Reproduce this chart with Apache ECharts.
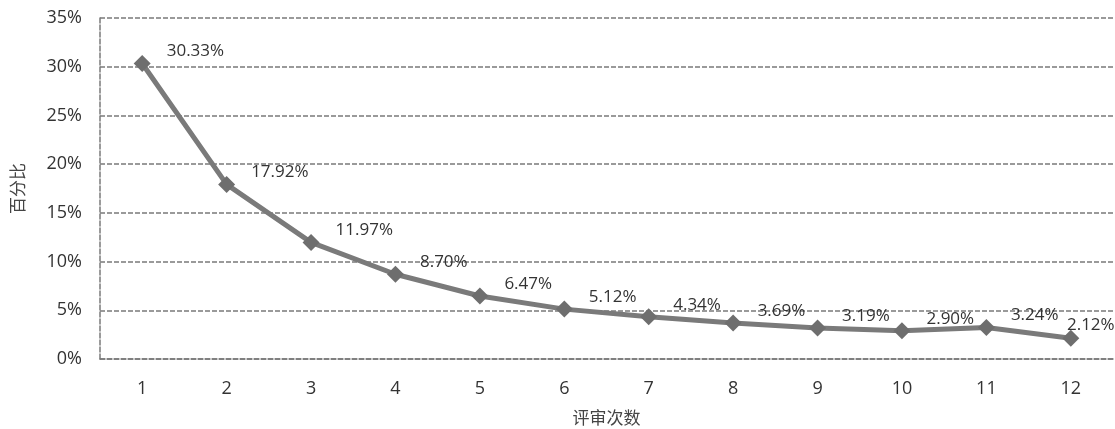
<!DOCTYPE html>
<html>
<head>
<meta charset="utf-8">
<script src="https://cdn.jsdelivr.net/npm/echarts@6/dist/echarts.min.js"></script>
<style>
  html, body { margin: 0; padding: 0; background: #fff; }
  #chart { width: 1115px; height: 429px; }
</style>
</head>
<body>
<div id="chart"></div>
<script>
// 评审次数
const rounds = ['1', '2', '3', '4', '5', '6', '7', '8', '9', '10', '11', '12'];
// 百分比
const percents = [30.33, 17.92, 11.97, 8.70, 6.47, 5.12, 4.34, 3.69, 3.19, 2.90, 3.24, 2.12];

const pointData = percents.map((v, i) => {
  // 最后一个点的标签放在上方，避免被裁掉
  if (i === percents.length - 1) {
    return { value: v, label: { position: 'top', distance: 4, offset: [20, 8] } };
  }
  return v;
});

const gridLine = { color: '#7a7a7a', type: [5, 2], width: 1.5 };

const chart = echarts.init(document.getElementById('chart'));
chart.setOption({
  animation: false,
  grid: { left: 100, right: 2, top: 18, bottom: 70, outerBoundsMode: 'none', containLabel: false },
  xAxis: {
    type: 'category',
    data: rounds,
    name: '评审次数',
    nameLocation: 'middle',
    nameGap: 50,
    nameTextStyle: { fontSize: 17, color: '#444', fontFamily: 'Noto Sans CJK SC' },
    axisLine: { lineStyle: gridLine },
    axisTick: { show: false },
    axisLabel: { color: '#333', fontSize: 18, margin: 21, fontFamily: 'Open Sans' }
  },
  yAxis: {
    type: 'value',
    min: 0,
    max: 35,
    interval: 5,
    name: '百分比',
    nameLocation: 'middle',
    nameGap: 74,
    nameTextStyle: { fontSize: 17, color: '#444', fontFamily: 'Noto Sans CJK SC' },
    axisLine: { show: true, lineStyle: gridLine },
    axisTick: { show: false },
    axisLabel: { color: '#333', fontSize: 18, margin: 18, formatter: '{value}%', fontFamily: 'Open Sans' },
    splitLine: { lineStyle: gridLine }
  },
  series: [{
    type: 'line',
    data: pointData,
    symbol: 'diamond',
    symbolSize: 17,
    lineStyle: { color: '#7a7a7a', width: 5 },
    itemStyle: { color: '#6e6e6e' },
    label: {
      show: true,
      position: 'right',
      distance: 16,
      offset: [0, -12],
      color: '#333',
      fontSize: 17,
      fontFamily: 'Open Sans',
      formatter: p => p.value.toFixed(2) + '%'
    }
  }]
});
</script>
</body>
</html>
